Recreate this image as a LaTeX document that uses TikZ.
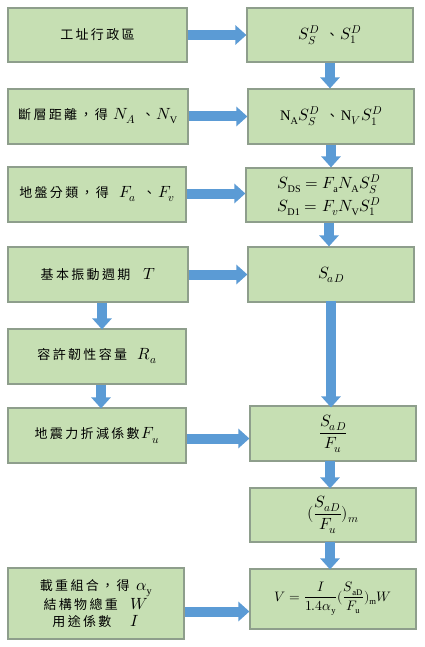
\documentclass[tikz,border=0pt]{standalone}
\usepackage{amsmath}
\usepackage{fontspec}
\usepackage{unicode-math}
\setmainfont{Liberation Serif}
\setmathfont{Latin Modern Math}[Scale=1.25]
\setmathrm{Liberation Serif}[Scale=1.12]
\newfontfamily\cjk[LetterSpace=18]{Noto Sans CJK TC}
\usetikzlibrary{arrows.meta}
\definecolor{boxfill}{HTML}{C6DFB3}
\definecolor{boxline}{HTML}{8E9E8C}
\definecolor{arrowblue}{HTML}{5B9BD5}
\tikzset{
  box/.style={draw=boxline, fill=boxfill, line width=1.2pt, inner sep=0pt, align=center, font=\fontsize{13}{17}\selectfont},
  blockarrow/.style={draw=arrowblue, line width=10pt, -{Triangle[width=19pt,length=11pt]}, arrowblue}
}
\begin{document}
\begin{tikzpicture}[x=1pt,y=-1pt]
\useasboundingbox (0,0) rectangle (425,647);
\fill[white] (0,0) rectangle (425,647);
% left column
\node[box, minimum width=179pt, minimum height=54pt] (L1) at (97.5,35) {\cjk 工址行政區};
\node[box, minimum width=180pt, minimum height=55pt] (L2) at (98,116.5) {\cjk 斷層距離，得\ \normalfont$N_A$\ \ {\cjk 、}\,$N_{\mathrm{V}}$};
\node[box, minimum width=178pt, minimum height=55pt] (L3) at (97,194.5) {\cjk 地盤分類，得\ \ \normalfont$F_a$\ \ {\cjk 、}\,$F_v$};
\node[box, minimum width=180pt, minimum height=55pt] (L4) at (98,274.5) {\cjk 基本振動週期\quad\normalfont$T$};
\node[box, minimum width=178pt, minimum height=55pt] (L5) at (97,356.5) {\cjk 容許韌性容量\ \ \normalfont$R_a$};
\node[box, minimum width=178pt, minimum height=55pt] (L6) at (97,435.5) {\cjk 地震力折減係數\,\normalfont$F_u$};
\node[box, minimum width=176pt, minimum height=71pt] (L7) at (96,603.5) {{\cjk 載重組合，得}\ \ $\alpha_{\mathrm{y}}$\\{\cjk 結構物總重}\quad$W$\\{\cjk 用途係數}\quad\ \ $I$};
% right column
\node[box, minimum width=166pt, minimum height=54pt] (R1) at (330,35) {$S_S^D$\ \ {\cjk 、}\,$S_1^D$};
\node[box, minimum width=166pt, minimum height=55pt] (R2) at (331,116.5) {$\mathrm{N}_{\mathrm{A}}S_S^D$\ \ {\cjk 、}\,$\mathrm{N}_V S_1^D$};
\node[box, minimum width=166pt, minimum height=54pt] (R3) at (329,195) {$S_{\mathrm{DS}}=F_{\mathrm{a}}N_{\mathrm{A}}S_S^D$\\[3pt]$S_{\mathrm{D1}}=F_vN_{\mathrm{V}}S_1^D$};
\node[box, minimum width=166pt, minimum height=55pt] (R4) at (331,274.5) {$S_{aD}$};
\node[box, minimum width=166pt, minimum height=55pt] (R5) at (333,433.5) {$\dfrac{S_{aD}}{F_u}$};
\node[box, minimum width=166pt, minimum height=54pt] (R6) at (333,515) {$(\dfrac{S_{aD}}{F_u})_m$};
\node[box, minimum width=166pt, minimum height=60pt] (R7) at (333,599) {\fontsize{11}{14}\selectfont$V=\dfrac{I}{1.4\alpha_{\mathrm{y}}}(\dfrac{S_{\mathrm{aD}}}{F_{\mathrm{u}}})_{\mathrm{m}}W$};
% horizontal arrows
\draw[blockarrow] (L1.east) -- (L1.east -| R1.west);
\draw[blockarrow] (L2.east) -- (L2.east -| R2.west);
\draw[blockarrow] ([yshift=1pt]L3.east) -- ([yshift=1pt]L3.east -| R3.west);
\draw[blockarrow] (L4.east) -- (L4.east -| R4.west);
\draw[blockarrow] ([yshift=-3pt]L6.east) -- ([yshift=-3pt]L6.east -| R5.west);
\draw[blockarrow] ([yshift=-8pt]L7.east) -- ([yshift=-8pt]L7.east -| R7.west);
% vertical arrows right
\draw[blockarrow] (R1.south) -- (R1.south |- R2.north);
\draw[blockarrow] (R2.south) -- (R2.south |- R3.north);
\draw[blockarrow] (R3.south) -- (R3.south |- R4.north);
\draw[blockarrow] ([yshift=2pt]R4.south) -- ([yshift=-2pt]R4.south |- R5.north);
\draw[blockarrow] ([xshift=-3pt,yshift=1pt]R5.south) -- ([xshift=-3pt,yshift=-1pt]R5.south |- R6.north);
\draw[blockarrow] ([xshift=-3pt,yshift=1pt]R6.south) -- ([xshift=-3pt,yshift=-1pt]R6.south |- R7.north);
% vertical arrows left
\draw[blockarrow] ([xshift=4pt]L4.south) -- ([xshift=4pt,yshift=-1pt]L4.south |- L5.north);
\draw[blockarrow] ([xshift=4pt]L5.south) -- ([xshift=4pt,yshift=-1pt]L5.south |- L6.north);
\end{tikzpicture}
\end{document}
